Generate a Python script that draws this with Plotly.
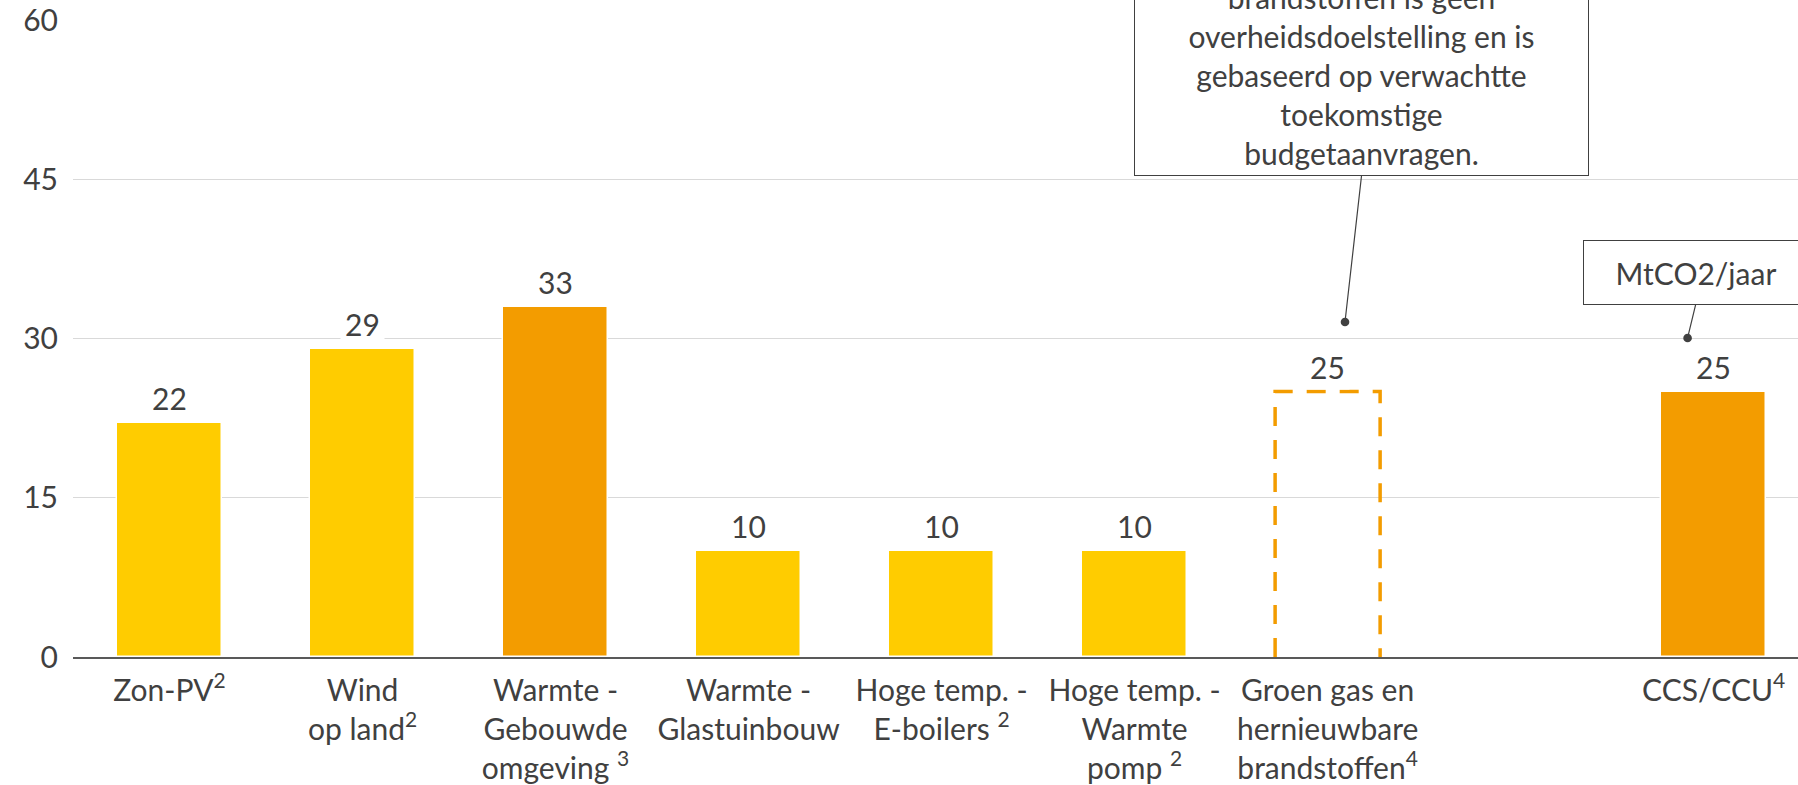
import numpy as np
import plotly.graph_objects as go

# Categories (tick labels) and values in MtCO2/jaar
categories = [
    "Zon-PV<sup>2</sup>",
    "Wind<br>op land<sup>2</sup>",
    "Warmte -<br>Gebouwde<br>omgeving <sup>3</sup>",
    "Warmte -<br>Glastuinbouw",
    "Hoge temp. -<br>E-boilers <sup>2</sup>",
    "Hoge temp. -<br>Warmte<br>pomp <sup>2</sup>",
    "Groen gas en<br>hernieuwbare<br>brandstoffen<sup>4</sup>",
    "CCS/CCU<sup>4</sup>",
]
values = [22, 29, 33, 10, 10, 10, 25, 25]
# "light" = yellow, "dark" = orange, "dashed" = outline only (no target)
styles = ["light", "light", "dark", "light", "light", "light", "dashed", "dark"]

y_ticks = [0, 15, 30, 45, 60]

YELLOW = "#FFCC00"
ORANGE = "#F39C00"
TEXT = "#404040"
FONT = "Lato"
FS = 30
BAR_W = 0.544

# slot positions; an empty slot is left before CCS/CCU
x_pos = np.arange(len(categories), dtype=float)
x_pos[-1] += 1

fig = go.Figure()

solid = [i for i, s in enumerate(styles) if s != "dashed"]
fig.add_bar(
    x=[x_pos[i] for i in solid],
    y=[values[i] for i in solid],
    width=BAR_W,
    marker=dict(
        color=[YELLOW if styles[i] == "light" else ORANGE for i in solid],
        line=dict(color="white", width=1.5),
    ),
    hoverinfo="skip",
)

# dashed outline bars
for i, s in enumerate(styles):
    if s == "dashed":
        x0, x1 = x_pos[i] - BAR_W / 2, x_pos[i] + BAR_W / 2
        fig.add_shape(
            type="path",
            xref="x", yref="y",
            path=f"M {x0},0 L {x0},{values[i]} L {x1},{values[i]} L {x1},0",
            line=dict(color=ORANGE, width=3.5, dash="19px,14px"),
        )

# value labels with white backing so gridlines stop around them
for xp, v in zip(x_pos, values):
    fig.add_annotation(
        x=xp, y=v, text=str(v), showarrow=False,
        xanchor="center", yanchor="bottom", yshift=2,
        font=dict(family=FONT, size=FS, color=TEXT),
        bgcolor="white", borderpad=4,
    )

# callouts
fig.add_annotation(
    x=6.09, y=31.55,
    text=("brandstoffen is geen<br>overheidsdoelstelling en is<br>"
          "gebaseerd op verwachtte<br>toekomstige<br>budgetaanvragen."),
    showarrow=True, ax=16.5, ay=-146,
    xanchor="center", yanchor="bottom",
    width=445, align="center",
    font=dict(family=FONT, size=FS, color=TEXT),
    bgcolor="white", bordercolor=TEXT, borderwidth=1, borderpad=4,
    arrowhead=6, arrowsize=1.8, arrowwidth=1.2, arrowcolor=TEXT, standoff=0,
)
fig.add_annotation(
    x=7.865, y=30.05,
    text="MtCO2/jaar",
    showarrow=True, ax=8, ay=-33,
    xanchor="center", yanchor="bottom",
    width=216, height=55, align="center",
    font=dict(family=FONT, size=FS, color=TEXT),
    bgcolor="white", bordercolor=TEXT, borderwidth=1, borderpad=4,
    arrowhead=6, arrowsize=1.8, arrowwidth=1.2, arrowcolor=TEXT, standoff=0,
)

fig.update_layout(
    width=1798, height=785,
    margin=dict(l=73, r=0, t=20, b=126),
    plot_bgcolor="white", paper_bgcolor="white",
    showlegend=False,
    bargap=0,
    font=dict(family=FONT, size=FS, color=TEXT),
    xaxis=dict(
        range=[-0.5, 8.437],
        tickvals=list(x_pos), ticktext=categories,
        tickfont=dict(family=FONT, size=FS, color=TEXT),
        showgrid=False, zeroline=False,
        showline=True, linecolor="#595959", linewidth=2,
        ticks="", ticklabelstandoff=6,
    ),
    yaxis=dict(
        range=[0, 60], tickvals=y_ticks,
        tickfont=dict(family=FONT, size=FS, color=TEXT),
        showgrid=True, gridcolor="#D9D9D9", gridwidth=1.3,
        zeroline=False, showline=False, ticks="",
        ticklabelstandoff=14,
    ),
)

fig.write_html("out.html")
